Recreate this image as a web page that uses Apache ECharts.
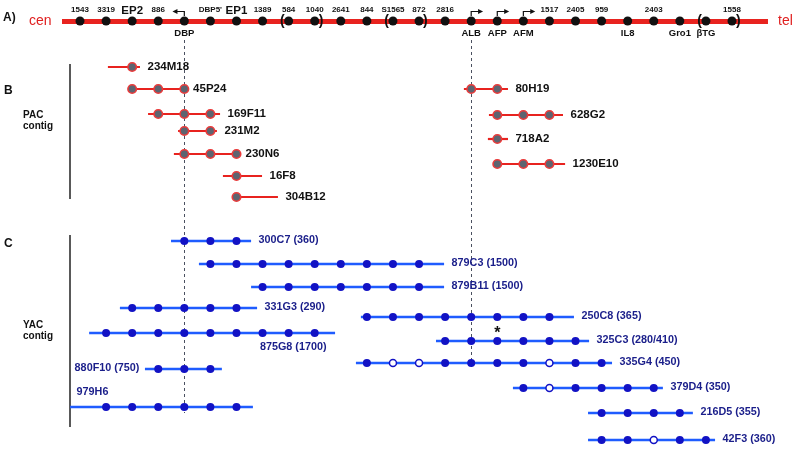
<!DOCTYPE html>
<html>
<head>
<meta charset="utf-8">
<script src="https://cdn.jsdelivr.net/npm/echarts@6/dist/echarts.min.js"></script>
<style>html,body{margin:0;padding:0;background:#fff}#c{width:800px;height:453px}</style>
</head>
<body>
<div id="c"></div>
<script>
// ---- Map markers (A) along the chromosome, positions are marker order ----
const markerNames = ['1543','3319','EP2','886','DBP',"DBP5'",'EP1','1389','584','1040','2641','844','S1565','872','2816','ALB','AFP','AFM','1517','2405','959','IL8','2403','Gro1','βTG','1558'];
const belowLabelIdx = [4, 15, 16, 17, 21, 23, 24];
const bigLabelIdx = [2, 6];
const parenGroups = [[8, 9], [12, 13], [24, 25]];
const promoterIdx = [4, 15, 16, 17];
const promoterDir = [-1, 1, 1, 1];
const mapStart = -0.69, mapEnd = 26.38;
const guideIdx = [4, 15];

// ---- PAC contig (B) ----
const pacNames = ['234M18','45P24','169F11','231M2','230N6','16F8','304B12','80H19','628G2','718A2','1230E10'];
const pacStart = [1.07, 1.95, 2.61, 3.76, 3.6, 5.48, 6.02, 14.72, 15.68, 15.64, 15.84];
const pacEnd   = [2.3, 4.05, 5.37, 5.25, 6.06, 6.98, 7.59, 16.41, 18.52, 16.41, 18.6];
const pacRow   = [67, 89, 114, 131, 154, 176, 197, 89, 115, 139, 164];
const pacMarkers = [[2],[2,3,4],[3,4,5],[4,5],[4,5,6],[6],[6],[15,16],[16,17,18],[16],[16,17,18]];

// ---- YAC contig (C) ----
const yacNames = ['300C7 (360)','879C3 (1500)','879B11 (1500)','331G3 (290)','875G8 (1700)','880F10 (750)','979H6','250C8 (365)','325C3 (280/410)','335G4 (450)','379D4 (350)','216D5 (355)','42F3 (360)'];
const yacStart = [3.49, 4.56, 6.56, 1.53, 0.35, 2.49, -0.38, 10.77, 13.65, 10.58, 16.6, 19.48, 19.48];
const yacEnd   = [6.56, 13.96, 13.96, 6.79, 9.78, 5.44, 6.63, 18.94, 19.52, 20.4, 22.35, 23.5, 24.35];
const yacRow   = [241, 264, 287, 308, 333, 369, 407, 317, 341, 363, 388, 413, 440];
const yacMarkers = [[4,5,6],[5,6,7,8,9,10,11,12,13],[7,8,9,10,11,12,13],[2,3,4,5,6],[1,2,3,4,5,6,7,8,9],[3,4,5],[1,2,3,4,5,6],[11,12,13,14,15,16,17,18],[14,15,16,17,18,19],[11,12,13,14,15,16,17,18,19,20],[17,18,19,20,21,22],[20,21,22,23],[20,21,22,23,24]];
const yacOpen = [[],[],[],[],[],[],[],[],[],[12,13,18],[18],[],[22]];
const starClone = [8];
const starIdx = [16];

// ---------------------------------------------------------------
const MAP_Y = 21;
const FONT = '"Liberation Sans", Arial, Helvetica, sans-serif';
const RED = '#e8231f', BLUE = '#1f5cff', NAVY = '#1a1e8a', DOT = '#1212c4';

const series = [];
const textPt = (x, y, text, style) => ({
  value: [x, y],
  label: Object.assign({show: true, formatter: text, position: 'inside', fontFamily: FONT}, style)
});
function textSeries(data, z) {
  return {type: 'scatter', symbol: 'circle', symbolSize: 1, itemStyle: {color: 'rgba(0,0,0,0)', opacity: 1},
    z: z || 10, silent: true, data: data, animation: false};
}

// guide dashed lines
series.push({
  type: 'lines', coordinateSystem: 'cartesian2d', polyline: false, z: 1, animation: false,
  lineStyle: {color: '#4a5060', width: 1, type: [3, 3], opacity: 1},
  data: [
    {coords: [[guideIdx[0], 40], [guideIdx[0], 413]]},
    {coords: [[guideIdx[1], 40], [guideIdx[1], 370]]}
  ]
});

// main map bar
series.push({
  type: 'lines', coordinateSystem: 'cartesian2d', z: 2, animation: false,
  lineStyle: {color: RED, width: 5, opacity: 1},
  data: [{coords: [[mapStart, MAP_Y], [mapEnd, MAP_Y]]}]
});
series.push({
  type: 'scatter', symbol: 'circle', symbolSize: 9, z: 5, animation: false,
  itemStyle: {color: '#111', opacity: 1},
  data: markerNames.map((n, i) => [i, MAP_Y])
});
// map labels
const mapLabels = [];
markerNames.forEach((n, i) => {
  if (belowLabelIdx.includes(i)) {
    mapLabels.push(textPt(i, 33, n, {fontSize: 9.5, fontWeight: 'bold', color: '#111'}));
  } else if (bigLabelIdx.includes(i)) {
    mapLabels.push(textPt(i, 11, n, {fontSize: 11.5, fontWeight: 'bold', color: '#111'}));
  } else {
    mapLabels.push(textPt(i, 10, n, {fontSize: 8, fontWeight: 'bold', color: '#111'}));
  }
});
parenGroups.forEach(g => {
  mapLabels.push(textPt(g[0] - 0.24, MAP_Y, '(', {fontSize: 14, fontWeight: 'bold', color: '#111'}));
  mapLabels.push(textPt(g[1] + 0.24, MAP_Y, ')', {fontSize: 14, fontWeight: 'bold', color: '#111'}));
});
series.push(textSeries(mapLabels, 12));
// promoter arrows
series.push({
  type: 'lines', coordinateSystem: 'cartesian2d', polyline: true, z: 6, animation: false,
  lineStyle: {color: '#111', width: 1.2, opacity: 1},
  data: promoterIdx.map((i, k) => ({coords: [[i, 16], [i, 11.5], [i + promoterDir[k] * 0.3, 11.5]]}))
});
series.push({
  type: 'scatter', symbol: 'triangle', symbolSize: [5, 5], z: 6, animation: false,
  itemStyle: {color: '#111', opacity: 1},
  data: promoterIdx.map((i, k) => ({value: [i + promoterDir[k] * 0.36, 11.5], symbolRotate: promoterDir[k] > 0 ? -90 : 90}))
});

// PAC bars
series.push({
  type: 'lines', coordinateSystem: 'cartesian2d', z: 3, animation: false,
  lineStyle: {color: RED, width: 2.2, opacity: 1},
  data: pacNames.map((n, k) => ({coords: [[pacStart[k], pacRow[k]], [pacEnd[k], pacRow[k]]]}))
});
const pacDots = [];
pacMarkers.forEach((ms, k) => ms.forEach(i => pacDots.push([i, pacRow[k]])));
series.push({
  type: 'scatter', symbol: 'circle', symbolSize: 8.5, z: 5, animation: false,
  itemStyle: {color: '#5d6470', borderColor: '#ea3b3b', borderWidth: 1.6, opacity: 1},
  data: pacDots
});
series.push(textSeries(pacNames.map((n, k) => ({
  value: [pacEnd[k], pacRow[k]],
  label: {show: true, formatter: n, position: [8, 0], align: 'left', verticalAlign: 'middle',
    fontFamily: FONT, fontSize: 11.5, fontWeight: 'bold', color: '#111'}
}))));

// YAC bars
series.push({
  type: 'lines', coordinateSystem: 'cartesian2d', z: 3, animation: false,
  lineStyle: {color: BLUE, width: 2.4, opacity: 1},
  data: yacNames.map((n, k) => ({coords: [[yacStart[k], yacRow[k]], [yacEnd[k], yacRow[k]]]}))
});
const yacDots = [], yacOpenDots = [];
yacMarkers.forEach((ms, k) => ms.forEach(i => {
  if (yacOpen[k].includes(i)) yacOpenDots.push([i, yacRow[k]]);
  else yacDots.push([i, yacRow[k]]);
}));
series.push({
  type: 'scatter', symbol: 'circle', symbolSize: 8, z: 5, animation: false,
  itemStyle: {color: DOT, opacity: 1}, data: yacDots
});
series.push({
  type: 'scatter', symbol: 'circle', symbolSize: 7, z: 5, animation: false,
  itemStyle: {color: '#fff', borderColor: DOT, borderWidth: 1.5, opacity: 1}, data: yacOpenDots
});
const yacLabelStyle = {fontFamily: FONT, fontSize: 10.8, fontWeight: 'bold', color: NAVY};
series.push(textSeries(yacNames.map((n, k) => {
  let v = [yacEnd[k], yacRow[k]], pos = [8, 0], align = 'left';
  if (n.startsWith('875G8')) { pos = [-8, 15]; align = 'right'; }
  else if (n.startsWith('880F10')) { v = [yacStart[k], yacRow[k]]; pos = [-5, 0]; align = 'right'; }
  else if (n.startsWith('979H6')) { v = [yacStart[k], yacRow[k]]; pos = [7, -14]; }
  return {value: v, label: Object.assign({show: true, formatter: n, position: pos, align: align, verticalAlign: 'middle'}, yacLabelStyle)};
})));
// asterisk
series.push(textSeries(starClone.map((c, k) => textPt(starIdx[k], yacRow[c] - 7, '*', {fontSize: 16, fontWeight: 'bold', color: '#111'})), 12));

const txt = (x, y, t, font, fill) => ({type: 'text', x: x, y: y, silent: true,
  style: {text: t, font: font, fill: fill || '#111', textVerticalAlign: 'middle', verticalAlign: 'middle'}});

const chart = echarts.init(document.getElementById('c'), null, {renderer: 'canvas'});
chart.setOption({
  animation: false,
  backgroundColor: '#fff',
  grid: {left: 0, right: 0, top: 0, bottom: 0},
  xAxis: {type: 'value', min: -80 / 26.08, max: 720 / 26.08, show: false},
  yAxis: {type: 'value', min: 0, max: 453, inverse: true, show: false},
  graphic: [
    txt(3, 18, 'A)', 'bold 12px ' + FONT),
    txt(29, 21, 'cen', '14px ' + FONT, '#e02020'),
    txt(778, 21, 'tel', '14px ' + FONT, '#e02020'),
    txt(4, 91, 'B', 'bold 12px ' + FONT),
    txt(23, 115, 'PAC', 'bold 10px ' + FONT),
    txt(23, 126, 'contig', 'bold 10px ' + FONT),
    txt(4, 244, 'C', 'bold 12px ' + FONT),
    txt(23, 325, 'YAC', 'bold 10px ' + FONT),
    txt(23, 336, 'contig', 'bold 10px ' + FONT),
    {type: 'line', silent: true, shape: {x1: 70, y1: 64, x2: 70, y2: 199}, style: {stroke: '#222', lineWidth: 1.5}},
    {type: 'line', silent: true, shape: {x1: 70, y1: 235, x2: 70, y2: 427}, style: {stroke: '#222', lineWidth: 1.5}}
  ],
  series: series
});
</script>
</body>
</html>
